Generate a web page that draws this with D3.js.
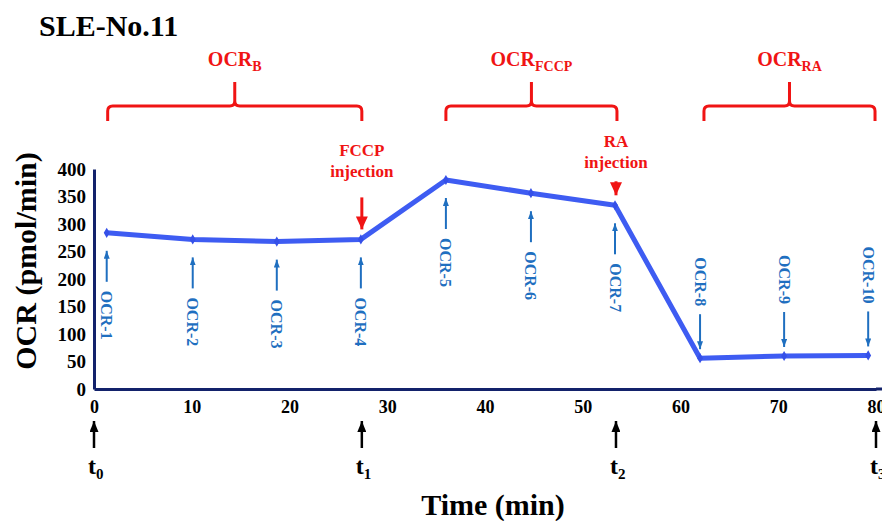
<!DOCTYPE html>
<html>
<head>
<meta charset="utf-8">
<script src="https://cdn.jsdelivr.net/npm/d3@7"></script>
<style>
  body { margin: 0; background: #fff; }
  svg { display: block; font-family: "Liberation Serif", "Times New Roman", serif; }
</style>
</head>
<body>
<svg id="chart"></svg>
<script>
const times = [1.3, 10.1, 18.7, 27.3, 36.0, 44.7, 53.3, 62.0, 70.6, 79.2];
const ocrValues = [284, 272, 268, 272, 380, 356, 334, 56, 60, 61];
const ocrLabels = ['OCR-1', 'OCR-2', 'OCR-3', 'OCR-4', 'OCR-5', 'OCR-6', 'OCR-7', 'OCR-8', 'OCR-9', 'OCR-10'];
const xTicks = [0, 10, 20, 30, 40, 50, 60, 70, 80];
const yTicks = [0, 50, 100, 150, 200, 250, 300, 350, 400];
const phaseNames = ['B', 'FCCP', 'RA'];
const phaseSpans = [[1.4, 27.4], [36.0, 53.5], [62.4, 79.9]];
const injections = ['FCCP', 'RA'];
const injectionIndex = [3, 6];
const tMarks = [0, 27.4, 53.4, 80];
const tNames = ['0', '1', '2', '3'];

const width = 882, height = 521;
const red = '#f01414', blue = '#1f6fc0', navy = '#13226b';

const svg = d3.select('#chart')
    .attr('width', width)
    .attr('height', height);

const x = d3.scaleLinear().domain([0, 80]).range([94, 876]);
const y = d3.scaleLinear().domain([0, 400]).range([389, 169]);

const defs = svg.append('defs');
function arrowHead(id, color, w, l) {
    defs.append('marker')
        .attr('id', id)
        .attr('markerUnits', 'userSpaceOnUse')
        .attr('markerWidth', l).attr('markerHeight', w)
        .attr('viewBox', `0 ${-w / 2} ${l} ${w}`)
        .attr('refX', l).attr('refY', 0)
        .attr('orient', 'auto')
        .append('path')
        .attr('d', `M0,${-w / 2}L${l},0L0,${w / 2}Z`)
        .attr('fill', color);
}
arrowHead('head-blue', blue, 6, 8);
arrowHead('head-red', red, 12, 13);
arrowHead('head-black', '#000', 9, 11);

// title
svg.append('text')
    .attr('x', 39).attr('y', 36)
    .attr('font-size', 30).attr('font-weight', 'bold')
    .text('SLE-No.11');

// axes
const yAxis = svg.append('g')
    .attr('transform', `translate(${x(0)},0)`)
    .call(d3.axisLeft(y).tickValues(yTicks).tickSize(0).tickPadding(8));
yAxis.select('.domain').attr('stroke', navy).attr('stroke-width', 3);
yAxis.selectAll('text')
    .attr('font-family', 'Liberation Serif, serif')
    .attr('font-size', 19).attr('font-weight', 'bold').attr('fill', '#000');

const xAxis = svg.append('g')
    .attr('transform', `translate(0,${y(0)})`)
    .call(d3.axisBottom(x).tickValues(xTicks).tickSize(0).tickPadding(11));
xAxis.select('.domain').attr('stroke', navy).attr('stroke-width', 3);
xAxis.selectAll('text')
    .attr('font-family', 'Liberation Serif, serif')
    .attr('font-size', 18).attr('font-weight', 'bold').attr('fill', '#000');
svg.append('line')
    .attr('x1', x(80)).attr('x2', width)
    .attr('y1', y(0)).attr('y2', y(0))
    .attr('stroke', navy).attr('stroke-width', 3);

svg.append('text')
    .attr('transform', `translate(36,${(y(0) + y(400)) / 2 - 18}) rotate(-90)`)
    .attr('text-anchor', 'middle')
    .attr('font-size', 30).attr('font-weight', 'bold')
    .text('OCR (pmol/min)');

svg.append('text')
    .attr('x', 493).attr('y', 515)
    .attr('text-anchor', 'middle')
    .attr('font-size', 30).attr('font-weight', 'bold')
    .text('Time (min)');

// data line
const pts = times.map((t, i) => ({ t, v: ocrValues[i], label: ocrLabels[i] }));
svg.append('path')
    .datum(pts)
    .attr('fill', 'none')
    .attr('stroke', '#3e5cf2')
    .attr('stroke-width', 5)
    .attr('stroke-linejoin', 'round')
    .attr('d', d3.line().x(d => x(d.t)).y(d => y(d.v)));

svg.selectAll('.pt')
    .data(pts)
    .enter().append('path')
    .attr('class', 'pt')
    .attr('transform', d => `translate(${x(d.t)},${y(d.v)})`)
    .attr('d', d3.symbol(d3.symbolDiamond, 30))
    .attr('fill', '#3550e8');

// OCR measurement arrows + labels
pts.forEach((d, i) => {
    const px = x(d.t), py = y(d.v);
    const g = svg.append('g');
    if (i < 7) {
        const tip = py + 18, tail = tip + 31;
        g.append('line')
            .attr('x1', px).attr('x2', px)
            .attr('y1', tail).attr('y2', tip)
            .attr('stroke', blue).attr('stroke-width', 2)
            .attr('marker-end', 'url(#head-blue)');
        g.append('text')
            .attr('transform', `translate(${px},${tail + 9}) rotate(90)`)
            .attr('dominant-baseline', 'central')
            .attr('font-size', 16).attr('font-weight', 'bold')
            .attr('fill', blue)
            .text(d.label);
    } else {
        const tip = py - 9, tail = tip - 35;
        g.append('line')
            .attr('x1', px).attr('x2', px)
            .attr('y1', tail).attr('y2', tip)
            .attr('stroke', blue).attr('stroke-width', 2)
            .attr('marker-end', 'url(#head-blue)');
        g.append('text')
            .attr('transform', `translate(${px},${tail - 8}) rotate(90)`)
            .attr('dominant-baseline', 'central')
            .attr('text-anchor', 'end')
            .attr('font-size', 16).attr('font-weight', 'bold')
            .attr('fill', blue)
            .text(d.label);
    }
});

// phase brackets
const bracketY = 106, bracketEnd = 121, spikeTop = 82, r = 5;
phaseSpans.forEach((s, i) => {
    const x1 = x(s[0]), x2 = x(s[1]), xm = (x1 + x2) / 2;
    svg.append('path')
        .attr('d', `M${x1},${bracketEnd}L${x1},${bracketY + r}Q${x1},${bracketY} ${x1 + r},${bracketY}` +
            `L${xm - r},${bracketY}Q${xm},${bracketY} ${xm},${bracketY - r}L${xm},${spikeTop}` +
            `M${xm},${bracketY - r}Q${xm},${bracketY} ${xm + r},${bracketY}` +
            `L${x2 - r},${bracketY}Q${x2},${bracketY} ${x2},${bracketY + r}L${x2},${bracketEnd}`)
        .attr('fill', 'none')
        .attr('stroke', red)
        .attr('stroke-width', 3);
    const lbl = svg.append('text')
        .attr('x', xm).attr('y', 66)
        .attr('text-anchor', 'middle')
        .attr('font-size', 20).attr('font-weight', 'bold')
        .attr('fill', red);
    lbl.append('tspan').text('OCR');
    lbl.append('tspan').attr('font-size', 14).attr('dy', 5).text(phaseNames[i]);
});

// injection annotations
const injLayout = [{ len: 32, gap: 20 }, { len: 14, gap: 13 }];
injections.forEach((name, i) => {
    const k = injectionIndex[i];
    const px = x(tMarks[i + 1]);
    const tip = y(ocrValues[k]) - 10, tail = tip - injLayout[i].len;
    svg.append('line')
        .attr('x1', px).attr('x2', px)
        .attr('y1', tail).attr('y2', tip)
        .attr('stroke', red).attr('stroke-width', 3)
        .attr('marker-end', 'url(#head-red)');
    const base = tail - injLayout[i].gap;
    svg.append('text')
        .attr('x', px).attr('y', base)
        .attr('text-anchor', 'middle')
        .attr('font-size', 17).attr('font-weight', 'bold')
        .attr('fill', red)
        .text('injection');
    svg.append('text')
        .attr('x', px).attr('y', base - 21)
        .attr('text-anchor', 'middle')
        .attr('font-size', 17).attr('font-weight', 'bold')
        .attr('fill', red)
        .text(name);
});

// time markers t0..t3
tMarks.forEach((t, i) => {
    const px = x(t);
    svg.append('line')
        .attr('x1', px).attr('x2', px)
        .attr('y1', 448).attr('y2', 421)
        .attr('stroke', '#000').attr('stroke-width', 2.5)
        .attr('marker-end', 'url(#head-black)');
    const lbl = svg.append('text')
        .attr('x', px - 6).attr('y', 474)
        .attr('font-size', 24).attr('font-weight', 'bold');
    lbl.append('tspan').text('t');
    lbl.append('tspan').attr('font-size', 15).attr('dy', 5).text(tNames[i]);
});
</script>
</body>
</html>
